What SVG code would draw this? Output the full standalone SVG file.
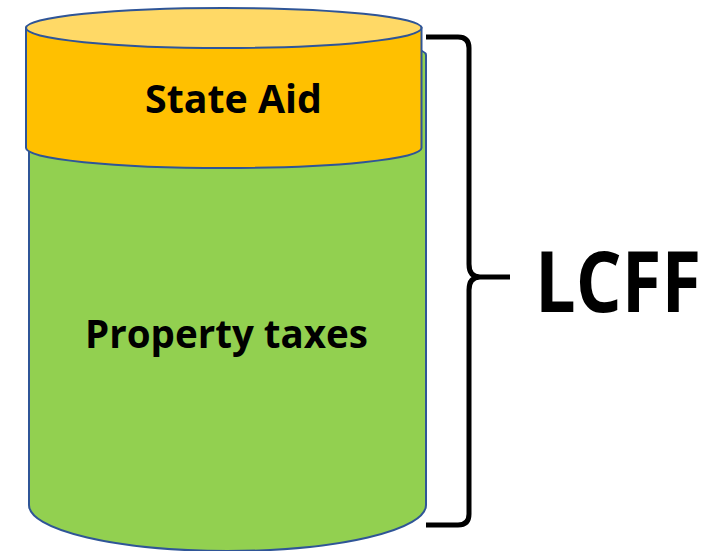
<svg xmlns="http://www.w3.org/2000/svg" width="708" height="551" viewBox="0 0 708 551">
<style>
.shape{stroke:#2F5597;stroke-width:2}
.lbl{font-family:"Open Sans","Liberation Sans",sans-serif;font-weight:bold;fill:#000}
.brace{fill:none;stroke:#000;stroke-width:5;stroke-linecap:butt;stroke-linejoin:round}
</style>
<rect width="708" height="551" fill="#fff"/>
<g id="property-taxes">
<path class="shape" fill="#92D050" d="M29,55 L29,505 A198.5,46 0 0 0 426,505 L426,55 A198.5,20 0 0 0 29,55 Z"/>
<text class="lbl" x="226.5" y="348" font-size="39" text-anchor="middle" textLength="283" lengthAdjust="spacingAndGlyphs">Property taxes</text>
</g>
<g id="state-aid">
<path class="shape" fill="#FFC000" d="M26,28 L26,148 A197.75,20 0 0 0 421.5,148 L421.5,28 Z"/>
<ellipse class="shape" fill="#FFD966" cx="223.75" cy="28" rx="197.75" ry="20"/>
<text class="lbl" x="233.5" y="113" font-size="39" text-anchor="middle" textLength="177" lengthAdjust="spacingAndGlyphs">State Aid</text>
</g>
<g id="connectors">
<path class="brace" d="M426,37 L458,37 Q469,37 469,48 L469,264 Q469,277 480,277 L510,277 M480,277 Q469,277 469,290 L469,514 Q469,525 458,525 L426,525"/>
</g>
<g id="lcff">
<text class="lbl" transform="translate(535,312) scale(1,1.2)" x="0" y="0" font-size="70" textLength="166" lengthAdjust="spacingAndGlyphs">LCFF</text>
</g>
</svg>
